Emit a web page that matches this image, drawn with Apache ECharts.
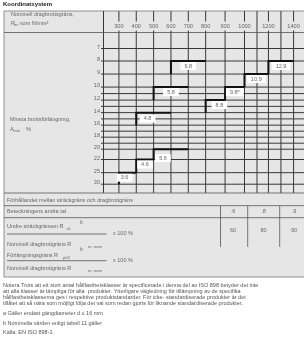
<!DOCTYPE html>
<html>
<head>
<meta charset="utf-8">
<script src="https://cdn.jsdelivr.net/npm/echarts@6/dist/echarts.min.js"></script>
<style>
html, body { margin: 0; padding: 0; background: #fff; }
#chart { width: 304px; height: 351px; }
</style>
</head>
<body>
<div id="chart"></div>
<script>
// Rm-axeln (N/mm²), skalan i figuren är inte linjär
var rmTicks = [300, 400, 500, 600, 700, 800, 900, 1000, 1100, 1200, 1300, 1400];
var rmLabels = ['300', '400', '500', '600', '700', '800', '900', '1000', '', '1200', '', '1400'];
var rmStep = [1, 1, 1, 1, 1, 1.12, 1.12, 0.72, 0.66, 0.72, 0.73];

// A min (%) rader
var aTicks = [7, 8, 9, 10, 12, 14, 16, 18, 20, 22, 25, 30];
var aStep = [1.01, 1.05, 1.05, 1.05, 1.01, 1.01, 0.97, 0.97, 0.83, 1.06, 0.93];
var aMinor = [11, 13, 15, 17, 19];

// hållfasthetsklasser
var classNames = ['3.6', '4.6', '4.8', '5.6', '5.8', '6.8', '8.8', '9.8', '10.9', '12.9'];
var classRm = [300, 400, 400, 500, 500, 600, 800, 900, 1000, 1200];
var classRmEnd = [400, 500, 600, 700, 700, 800, 900, 1000, 1200, 1400];
var classA = [25, 22, 14, 20, 10, 8, 12, 10, 9, 8];
var classAEnd = [30, 25, 16, 22, 12, 9, 14, 12, 10, 9];

var ratioDigits = ['.6', '.8', '.9'];
var ratioPct = ['60', '80', '90'];

var notes = [
    'Trots att ett stort antal hållfasthetsklasser är specificerade i denna del av ISO 898 betyder det inte',
    'att alla klasser är lämpliga för alla  produkter. Ytterligare vägledning för tillämpning av de specifika',
    'hållfasthetsklasserna ges i respektive produktstandarder. För icke- standardiserade produkter är det',
    'tillåtet att så nära som möjligt följa det val som redan gjorts för liknande standardiserade produkter.'
];

var FONT = '"Liberation Sans", Arial, sans-serif';
var PANEL = '#e6e6e6';
var TXT = '#666';
var LINE = '#383838';
var X_MAX = 11.53, Y_MAX = 12.94, HEAD_TOP = -1.73, HEAD_LABEL = -0.52;

// etikettjusteringar (px) där figuren inte centrerar
var labelShift = { '3.6': [-3, 0], '4.8': [-6, 1], '5.6': [-8, 4], '8.8': [4, 0] };

function buildPos(start, steps) {
    var p = [start];
    for (var i = 0; i < steps.length; i++) p.push(p[i] + steps[i]);
    return p;
}
var rmPosTbl = buildPos(0.86, rmStep);
var aPosTbl = buildPos(1.29, aStep);

function interp(v, ticks, pos) {
    for (var i = 0; i < ticks.length - 1; i++) {
        if (v <= ticks[i + 1]) {
            return pos[i] + (v - ticks[i]) / (ticks[i + 1] - ticks[i]) * (pos[i + 1] - pos[i]);
        }
    }
    return pos[pos.length - 1];
}
function rmPos(rm) { return interp(rm, rmTicks, rmPosTbl); }
function aPos(a) { return interp(a, aTicks, aPosTbl); }

var allA = aTicks.concat(aMinor).sort(function (a, b) { return a - b; });

function txt(text, x, y, opt) {
    opt = opt || {};
    return {
        type: 'text', z: 5,
        style: {
            text: text, x: x, y: y,
            fill: opt.fill || TXT,
            font: (opt.style || '') + ' ' + (opt.weight || 'normal') + ' ' + (opt.size || 5.5) + 'px ' + FONT,
            textAlign: opt.align || 'left',
            textVerticalAlign: 'middle', verticalAlign: 'middle'
        }
    };
}
function hline(x1, x2, y, w, c) {
    return { type: 'line', z: 4, shape: { x1: x1, y1: y, x2: x2, y2: y }, style: { stroke: c || '#555', lineWidth: w || 0.8 } };
}
function vline(x, y1, y2, w, c) {
    return { type: 'line', z: 4, shape: { x1: x, y1: y1, x2: x, y2: y2 }, style: { stroke: c || '#555', lineWidth: w || 0.8 } };
}

var myChart = echarts.init(document.getElementById('chart'));

var graphics = [
    { type: 'rect', z: 0, shape: { x: 4, y: 11, width: 302, height: 266 }, style: { fill: PANEL, stroke: '#777', lineWidth: 0.8 } },
    txt('Koordinatsystem', 3, 4.5, { weight: 'bold', size: 6, fill: '#222' }),
    txt('Nominell dragbrottsgräns,', 11, 14.5),
    txt('R', 11, 23), txt('m', 14, 25, { size: 4.2 }), txt(', nom N/mm²', 16.5, 23),
    txt('Minsta brottsförlängning,', 10, 119),
    txt('A', 10, 129), txt('min', 13.3, 131, { size: 4.2 }), txt('%', 26, 129),
    vline(103.5, 11, 193, 1, LINE),
    hline(4, 306, 32.5),
    hline(4, 306, 193),
    hline(4, 306, 205.7),
    hline(4, 306, 217.7),
    txt('Förhållandet mellan sträckgräns och dragbrottgräns', 7, 200),
    txt('Beteckningens andra tal', 7, 211.7),
    txt('Undre sträckgränsen R', 7, 226.7), txt('eL', 66.5, 229.3, { size: 4.2 }), txt('b', 80, 222.3, { size: 5 }),
    hline(7, 106.5, 234, 0.8, '#555'),
    txt('x 100 %', 113, 233.5),
    txt('Nominell dragbrottgräns R', 7, 244.3), txt('m, nom', 88, 246.5, { size: 4.2 }),
    txt('Förlängningsgräns R', 7, 255), txt('p02', 63, 258, { size: 4.2 }), txt('b', 80, 250, { size: 5 }),
    hline(7, 106.5, 260.7, 0.8, '#555'),
    txt('x 100 %', 113, 260.5),
    txt('Nominell dragbrottgräns R', 7, 268.3), txt('m, nom', 88, 270.5, { size: 4.2 }),
    txt('a Gäller endast gängdiameter d ≤ 16 mm', 3, 313.3, { fill: '#555' }),
    txt('b Nominella värden enligt tabell 11 gäller', 3, 323.3, { fill: '#555' }),
    txt('Källa: EN ISO 898-1.', 3, 332.7, { fill: '#555' })
];
var colSep = [220.5, 247.7, 279.7];
var colMid = [233, 263.5, 294];
colSep.forEach(function (x) { graphics.push(vline(x, 205.7, 247)); });
ratioDigits.forEach(function (t, i) { graphics.push(txt(t, colMid[i], 211.7, { align: 'center' })); });
ratioPct.forEach(function (t, i) { graphics.push(txt(t, colMid[i], 230.7, { align: 'center' })); });
notes.forEach(function (t, i) {
    var g = txt((i === 0 ? 'Notera ' : '') + t, 3, 285.7 + i * 5.9, { fill: '#555' });
    graphics.push(g);
});

option = {
    animation: false,
    grid: { left: 104, right: 0, top: 32.5, bottom: 158 },
    xAxis: { type: 'value', min: 0, max: X_MAX, show: false },
    yAxis: { type: 'value', min: 0, max: Y_MAX, inverse: true, show: false },
    graphic: { elements: graphics },
    series: [
        {
            // lodräta linjer för Rm
            type: 'custom', z: 2,
            data: rmTicks,
            renderItem: function (params, api) {
                var x = rmPos(api.value(0));
                var p1 = api.coord([x, HEAD_TOP]);
                var p2 = api.coord([x, Y_MAX]);
                return { type: 'line', shape: { x1: p1[0], y1: p1[1], x2: p2[0], y2: p2[1] }, style: { stroke: LINE, lineWidth: 1 } };
            }
        },
        {
            // vågräta linjer för A min
            type: 'custom', z: 2,
            data: allA,
            renderItem: function (params, api) {
                var y = aPos(api.value(0));
                var p1 = api.coord([0, y]);
                var p2 = api.coord([X_MAX, y]);
                return { type: 'line', shape: { x1: p1[0] - 3, y1: p1[1], x2: p2[0], y2: p2[1] }, style: { stroke: LINE, lineWidth: 1 } };
            }
        },
        {
            type: 'custom', z: 3,
            data: rmTicks,
            renderItem: function (params, api) {
                var p = api.coord([rmPos(api.value(0)), HEAD_LABEL]);
                var t = rmLabels[params.dataIndex];
                if (!t) return null;
                return {
                    type: 'text',
                    style: {
                        text: t, x: p[0], y: p[1], textAlign: 'center', verticalAlign: 'middle', textVerticalAlign: 'middle',
                        fill: TXT, font: '5.6px ' + FONT, backgroundColor: PANEL, padding: [1.5, 0.5]
                    }
                };
            }
        },
        {
            type: 'custom', z: 3,
            data: aTicks,
            renderItem: function (params, api) {
                var p = api.coord([0, aPos(api.value(0))]);
                return {
                    type: 'text',
                    style: {
                        text: String(api.value(0)), x: p[0] - 4, y: p[1] - 1.5, textAlign: 'right', verticalAlign: 'middle', textVerticalAlign: 'middle',
                        fill: TXT, font: '5.6px ' + FONT
                    }
                };
            }
        },
        {
            // klassernas trappsteg och etiketter
            type: 'custom', z: 6,
            data: classNames.map(function (n, i) { return [classRm[i], classRmEnd[i], classA[i], classAEnd[i]]; }),
            renderItem: function (params, api) {
                var name = classNames[params.dataIndex];
                var x1 = rmPos(api.value(0)), x2 = rmPos(api.value(1));
                var y1 = aPos(api.value(2)), y2 = aPos(api.value(3));
                var tl = api.coord([x1, y1]), tr = api.coord([x2, y1]), bl = api.coord([x1, y2]);
                var sh = labelShift[name] || [0, 0];
                var label = name === '9.8' ? '9.8ᵃ' : name;
                return {
                    type: 'group',
                    children: [
                        { type: 'polyline', shape: { points: [bl, tl, tr] }, style: { stroke: '#111', lineWidth: 2, fill: null } },
                        {
                            type: 'text',
                            style: {
                                text: label, x: (tl[0] + tr[0]) / 2 + sh[0], y: tl[1] + 5 + sh[1],
                                textAlign: 'center', verticalAlign: 'middle', textVerticalAlign: 'middle',
                                fill: TXT, font: '5.5px ' + FONT, backgroundColor: '#fff', padding: [1, 4]
                            }
                        }
                    ]
                };
            }
        }
    ]
};

myChart.setOption(option);
</script>
</body>
</html>
